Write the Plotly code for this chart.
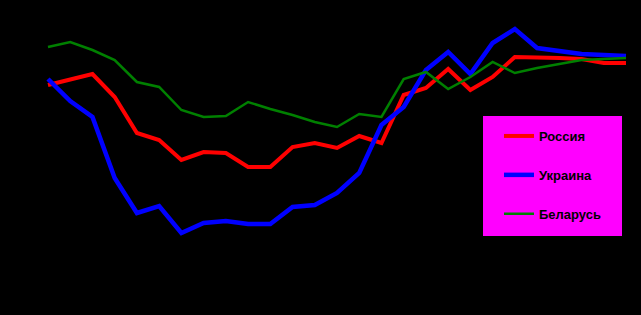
import plotly.graph_objects as go

# x positions: 27 consecutive periods
periods = list(range(27))

# values (arbitrary index units, higher = up)
russia = [230, 236, 241, 218, 182, 175, 155, 163, 162, 148, 148, 168, 172,
          167, 179, 172, 220, 227, 246, 225, 238, 258, 258, 257, 256, 252, 252]
ukraine = [236, 214, 198, 137, 102, 109, 82, 92, 94, 91, 91, 108, 110,
           122, 142, 190, 208, 245, 263, 241, 272, 286, 267, 264, 261, 260, 259]
belarus = [268, 273, 265, 255, 233, 228, 205, 198, 199, 213, 206, 200, 193,
           188, 201, 198, 236, 243, 226, 238, 253, 242, 247, 251, 255, 256, 257]

names = ["Россия", "Украина", "Беларусь"]
colors = ["#ff0000", "#0000ff", "#008000"]
widths = [4, 4.5, 2.5]

fig = go.Figure()
for i, (nm, vals, c, w) in enumerate(zip(names, [russia, ukraine, belarus], colors, widths)):
    fig.add_trace(go.Scatter(x=periods, y=vals, mode="lines", name=nm,
                             line=dict(color=c, width=w), legendgroup=str(i)))

px_per = 578 / 26
x0 = -48 / px_per
x1 = x0 + 641 / px_per

fig.add_shape(type="rect", xref="paper", yref="paper",
              x0=483 / 641, x1=622 / 641, y0=1 - 236 / 315, y1=1 - 116 / 315,
              fillcolor="#ff00ff", line=dict(width=0), layer="below")

fig.update_layout(
    width=641, height=315,
    margin=dict(l=0, r=0, t=0, b=0),
    paper_bgcolor="black", plot_bgcolor="black",
    xaxis=dict(range=[x0, x1], visible=False, showgrid=False, zeroline=False),
    yaxis=dict(range=[0, 315], visible=False, showgrid=False, zeroline=False),
    showlegend=True,
    legend=dict(x=499 / 641, y=1 - 121 / 315, xanchor="left", yanchor="top",
                bgcolor="rgba(0,0,0,0)", font=dict(family="Arial", size=13, color="black", weight="bold"),
                tracegroupgap=19, traceorder="grouped"),
)

fig.write_html("out.html")
